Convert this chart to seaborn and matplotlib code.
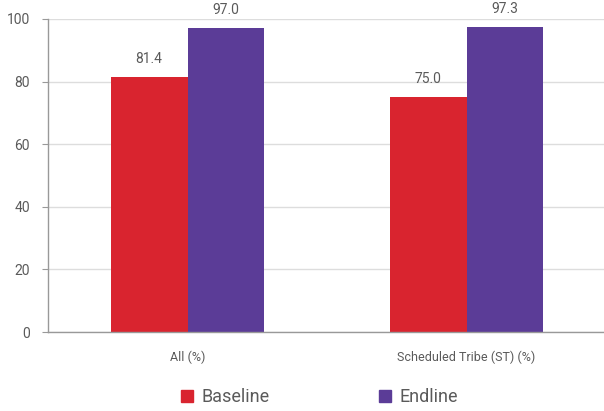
import pandas as pd
import matplotlib.pyplot as plt
import seaborn as sns
from matplotlib.lines import Line2D

# Data
categories = ['All (%)', 'Scheduled Tribe (ST) (%)']
baseline = [81.4, 75.0]
endline = [97.0, 97.3]
series = ['Baseline', 'Endline']
colors = ['#D9242F', '#5B3C97']

df = pd.DataFrame({
    'category': categories * 2,
    'value': baseline + endline,
    'series': [series[0]] * len(categories) + [series[1]] * len(categories),
})

sns.set_style('white')
plt.rcParams['font.family'] = ['Roboto', 'DejaVu Sans']

fig = plt.figure(figsize=(6.04, 4.11), dpi=100)
ax = fig.add_axes([0.0795, 0.192, 0.924, 0.762])

sns.barplot(data=df, x='category', y='value', hue='series', palette=colors,
            width=0.55, gap=0, saturation=1, linewidth=0, ax=ax, legend=False)

text_color = '#5a5a5a'
for cont in ax.containers:
    ax.bar_label(cont, fmt='%.1f', padding=8, fontsize=10, color=text_color)

ax.set_ylim(0, 100)
ax.set_xlim(-0.5, 1.5)
ax.set_yticks(range(0, 101, 20))
ax.yaxis.grid(True, color='#dddddd', linewidth=1)
ax.set_axisbelow(True)

# category labels at centres, tick marks at category boundaries
ax.set_xticks([-0.5, 0.5, 1.5])
ax.set_xticklabels([])
ax.set_xticks([0, 1], minor=True)
ax.set_xticklabels(categories, minor=True)
ax.tick_params(axis='x', which='major', length=5, color='#999999', direction='out')
ax.tick_params(axis='x', which='minor', length=0, pad=13, labelsize=9, labelcolor=text_color)
ax.tick_params(axis='y', length=4, color='#999999', direction='out', pad=9,
               labelsize=10, labelcolor=text_color, left=True)

ax.set_xlabel('')
ax.set_ylabel('')
for side in ['top', 'right']:
    ax.spines[side].set_visible(False)
for side in ['left', 'bottom']:
    ax.spines[side].set_color('#999999')
    ax.spines[side].set_linewidth(1)

handles = [Line2D([], [], marker='s', linestyle='', markersize=8,
                  markerfacecolor=c, markeredgecolor=c) for c in colors]
fig.legend(handles, series, loc='center', bbox_to_anchor=(0.526, 0.034), ncol=2,
           frameon=False, fontsize=13, labelcolor=text_color, columnspacing=5.9,
           handletextpad=0.3, handlelength=1)

fig.savefig('out.png', dpi=100)
